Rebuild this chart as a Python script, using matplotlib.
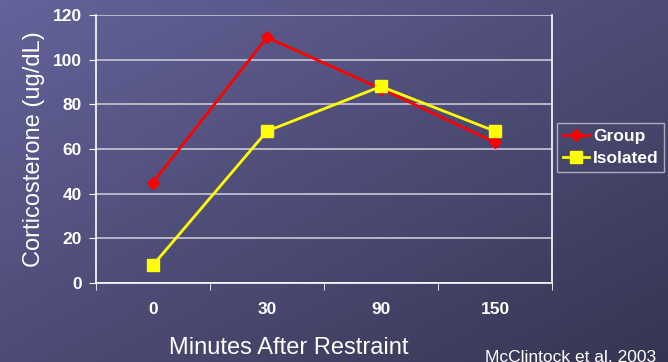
import matplotlib.pyplot as plt
import numpy as np
from matplotlib.colors import LinearSegmentedColormap

plt.rcParams["font.family"] = ["Liberation Sans", "DejaVu Sans"]

minutes = ["0", "30", "90", "150"]
group = [45, 110, 87, 63]
isolated = [8, 68, 88, 68]
y_ticks = [0, 20, 40, 60, 80, 100, 120]

fig = plt.figure(figsize=(6.68, 3.62), dpi=100)

# slide background: diagonal blue-violet gradient
bg = fig.add_axes([0, 0, 1, 1])
bg.set_axis_off()
gx, gy = np.meshgrid(np.linspace(0, 1, 200), np.linspace(0, 1, 200))
grad = 0.6 * gx + 0.6 * gy
cmap = LinearSegmentedColormap.from_list("slide", ["#64639a", "#363552"])
bg.imshow(grad, cmap=cmap, aspect="auto", extent=[0, 1, 0, 1], origin="upper")

ax = fig.add_axes([0.1437, 0.2182, 0.6826, 0.7403])
ax.set_facecolor("none")

x = np.arange(len(minutes))
ax.plot(x, group, color="#ff0000", lw=2, marker="D", ms=6,
        label="Group", zorder=3)
ax.plot(x, isolated, color="#ffff00", lw=2, marker="s", ms=8,
        label="Isolated", zorder=3)

ax.set_xlim(-0.5, len(minutes) - 0.5)
ax.set_ylim(0, 120)
ax.set_yticks(y_ticks)
ax.set_yticklabels([str(v) for v in y_ticks], fontweight="bold", fontsize=12.5)
ax.set_xticks(x)
ax.set_xticklabels(minutes, fontweight="bold", fontsize=12.5)
ax.set_xticks(np.arange(len(minutes) + 1) - 0.5, minor=True)
ax.tick_params(axis="x", which="major", length=0, pad=13.5, colors="white")
ax.tick_params(axis="x", which="minor", length=5, color="white")
ax.tick_params(axis="y", length=5, color="white", colors="white", pad=5)

ax.grid(axis="y", color="#c8c8d6", lw=1.2)
ax.set_axisbelow(True)
for side in ["left", "bottom", "right"]:
    ax.spines[side].set_color("white")
    ax.spines[side].set_linewidth(1.2)
ax.spines["top"].set_visible(False)

ax.set_ylabel("Corticosterone (ug/dL)", color="white", fontsize=17, labelpad=6)
fig.text(289 / 668, 0.039, "Minutes After Restraint", color="white",
         fontsize=17, ha="center", va="center")

leg = ax.legend(loc="center left", bbox_to_anchor=(1.0, 0.505), frameon=True,
                fancybox=False, fontsize=12.5, handlelength=1.5,
                borderpad=0.35, labelspacing=0.4, handletextpad=0.2,
                borderaxespad=0.3)
leg.get_frame().set_facecolor("none")
leg.get_frame().set_edgecolor("#c8c8d6")
for t in leg.get_texts():
    t.set_color("white")
    t.set_fontweight("bold")

fig.text(0.726, 0.033, "McClintock et al. 2003", color="white", fontsize=12.5,
         va="top", ha="left")

fig.savefig("out.png", dpi=100)
